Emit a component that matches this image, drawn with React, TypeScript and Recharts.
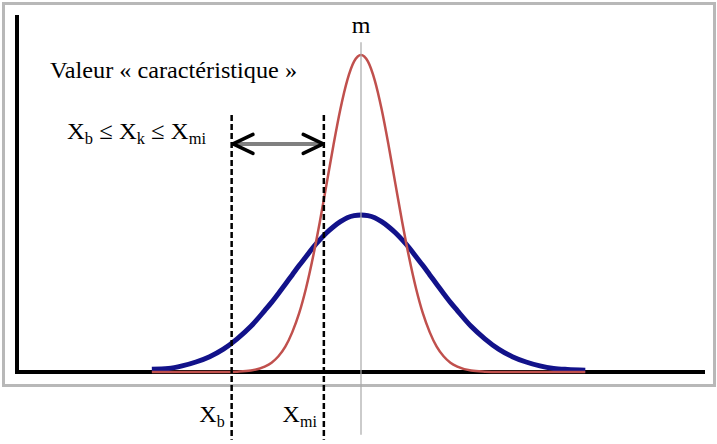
import { ComposedChart, Label, Line, ReferenceLine, XAxis, YAxis } from "recharts";

// Sample positions along the x scale (0–100), finer around the mean.
const xPoints = [
  19.6, 22, 24, 26, 28, 30, 32, 34, 36, 37, 38, 39, 40, 41, 42, 43, 44, 45, 46, 47, 48, 49, 50,
  51, 52, 53, 54, 55, 56, 57, 58, 59, 60, 61, 62, 63, 64, 66, 68, 70, 72, 74, 76, 78, 80, 82.6,
];

// Wide distribution (dark blue)
const wideCurve = [
  0.8, 1.0, 1.7, 2.8, 4.3, 6.4, 9.3, 12.8, 17.2, 19.5, 22.0, 24.6, 27.2, 29.8, 32.3, 34.8, 37.0,
  39.0, 40.7, 42.1, 43.2, 43.8, 44.0, 43.8, 43.2, 42.1, 40.7, 39.0, 37.0, 34.8, 32.3, 29.8, 27.2,
  24.6, 22.0, 19.5, 17.2, 12.8, 9.3, 6.4, 4.3, 2.8, 1.7, 1.0, 0.7, 0.5,
];

// Narrow distribution (red)
const narrowCurve = [
  0, 0, 0, 0, 0, 0, 0.1, 0.4, 1.5, 2.6, 4.4, 7.1, 11.1, 16.4, 23.4, 32.0, 41.9, 52.7, 63.6, 73.6,
  81.7, 87.0, 88.8, 87.0, 81.7, 73.6, 63.6, 52.7, 41.9, 32.0, 23.4, 16.4, 11.1, 7.1, 4.4, 2.6,
  1.5, 0.4, 0.1, 0, 0, 0, 0, 0, 0, 0,
];

const meanX = 50;
const lowerX = 31.2; // X_b
const upperX = 44.6; // X_mi
const arrowY = 63.9;

const rows = xPoints.map((x, i) => ({ x, wide: wideCurve[i], narrow: narrowCurve[i] }));

const serif = "'Liberation Serif', 'Times New Roman', serif";

// label under a dashed line: "X" with a subscript, right-aligned to the line
const subLabel = (sub: string) => (props: any) => {
  const vb = props.viewBox;
  return (
    <text
      x={vb.x - 7}
      y={vb.y + vb.height - 18}
      textAnchor="end"
      fontFamily={serif}
      fontSize={24}
      fill="#000"
    >
      X
      <tspan dy={5} fontSize={16}>
        {sub}
      </tspan>
    </text>
  );
};

export default function App() {
  return (
    <div style={{ position: "absolute", left: 0, top: 0, width: 717, height: 444, background: "#fff" }}>
      {/* frame around the plot */}
      <div
        style={{
          position: "absolute",
          left: 2,
          top: 2,
          width: 714,
          height: 385,
          border: "3px solid #b8b8b8",
          boxSizing: "border-box",
        }}
      />
      <div style={{ position: "absolute", left: 0, top: 0 }}>
        <ComposedChart
          width={717}
          height={444}
          data={rows}
          margin={{ top: 15, right: 12, bottom: 72, left: 17 }}
        >
          <XAxis dataKey="x" type="number" domain={[0, 100]} hide />
          <YAxis type="number" domain={[0, 100]} hide />

          {/* axis lines */}
          <ReferenceLine y={0} stroke="#000" strokeWidth={4} ifOverflow="visible" />
          <ReferenceLine
            segment={[
              { x: 0, y: 100 },
              { x: 0, y: -0.56 },
            ]}
            ifOverflow="visible"
            stroke="#000"
            strokeWidth={4}
          />

          <Line
            dataKey="wide"
            type="monotone"
            stroke="#12128a"
            strokeWidth={5}
            dot={false}
            isAnimationActive={false}
          />
          <Line
            dataKey="narrow"
            type="monotone"
            stroke="#c0504d"
            strokeWidth={2.5}
            dot={false}
            isAnimationActive={false}
          />

          {/* mean */}
          <ReferenceLine
            segment={[
              { x: meanX, y: 92.4 },
              { x: meanX, y: -17.6 },
            ]}
            ifOverflow="visible"
            stroke="#a8a8a8"
            strokeWidth={1.2}
          >
            <Label value="m" position="top" offset={9} fontFamily={serif} fontSize={24} fill="#000" />
          </ReferenceLine>

          {/* bounds */}
          <ReferenceLine
            segment={[
              { x: lowerX, y: 72 },
              { x: lowerX, y: -19 },
            ]}
            ifOverflow="visible"
            stroke="#000"
            strokeWidth={2.5}
            strokeDasharray="6 3"
            label={subLabel("b")}
          />
          <ReferenceLine
            segment={[
              { x: upperX, y: 72 },
              { x: upperX, y: -19 },
            ]}
            ifOverflow="visible"
            stroke="#000"
            strokeWidth={2.5}
            strokeDasharray="6 3"
            label={subLabel("mi")}
          />

          {/* double arrow between the bounds */}
          <ReferenceLine
            segment={[
              { x: 31.7, y: arrowY },
              { x: 44.2, y: arrowY },
            ]}
            ifOverflow="visible"
            stroke="#808080"
            strokeWidth={4}
          />
          <ReferenceLine
            segment={[
              { x: 31.4, y: arrowY },
              { x: 34.3, y: arrowY + 2.66 },
            ]}
            ifOverflow="visible"
            stroke="#000"
            strokeWidth={3.5}
            strokeLinecap="round"
          />
          <ReferenceLine
            segment={[
              { x: 31.4, y: arrowY },
              { x: 34.3, y: arrowY - 2.66 },
            ]}
            ifOverflow="visible"
            stroke="#000"
            strokeWidth={3.5}
            strokeLinecap="round"
          />
          <ReferenceLine
            segment={[
              { x: 44.5, y: arrowY },
              { x: 41.6, y: arrowY + 2.66 },
            ]}
            ifOverflow="visible"
            stroke="#000"
            strokeWidth={3.5}
            strokeLinecap="round"
          />
          <ReferenceLine
            segment={[
              { x: 44.5, y: arrowY },
              { x: 41.6, y: arrowY - 2.66 },
            ]}
            ifOverflow="visible"
            stroke="#000"
            strokeWidth={3.5}
            strokeLinecap="round"
          />
        </ComposedChart>
      </div>
      {/* annotations */}
      <svg
        width={717}
        height={444}
        style={{ position: "absolute", left: 0, top: 0, pointerEvents: "none" }}
      >
        <text x={50} y={78} fontFamily={serif} fontSize={23} fill="#000" textLength={247} lengthAdjust="spacingAndGlyphs">
          Valeur « caractéristique »
        </text>
        <text
          x={67}
          y={139}
          fontFamily={serif}
          fontSize={24}
          fill="#000"
          textLength={139}
          lengthAdjust="spacingAndGlyphs"
        >
          X<tspan dy={5} fontSize={16}>b</tspan>
          <tspan dy={-5}> ≤ X</tspan>
          <tspan dy={5} fontSize={16}>k</tspan>
          <tspan dy={-5}> ≤ X</tspan>
          <tspan dy={5} fontSize={16}>mi</tspan>
        </text>
      </svg>
    </div>
  );
}
